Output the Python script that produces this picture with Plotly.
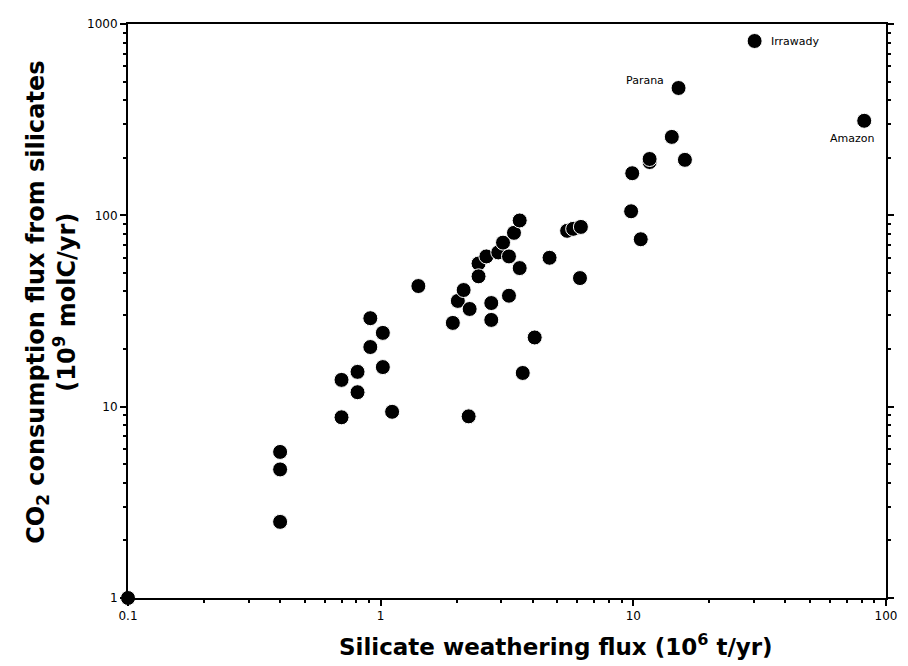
import math
import plotly.graph_objects as go

# Silicate weathering flux (10^6 t/yr) and CO2 consumption (10^9 molC/yr)
flux = [0.1, 0.4, 0.4, 0.4, 0.7, 0.7, 0.81, 0.81, 0.91, 0.91, 1.02, 1.02, 1.11,
        1.41, 1.93, 2.02, 2.13, 2.25, 2.23, 2.44, 2.44, 2.62, 2.74, 2.74, 2.92,
        3.05, 3.22, 3.22, 3.37, 3.55, 3.55, 3.65, 4.07, 4.66, 5.47, 5.78, 6.2,
        6.15, 9.8, 9.9, 10.7, 11.6, 11.6, 14.2, 16.0, 15.1, 30.2, 82.0]
co2 = [1.0, 5.8, 4.7, 2.5, 8.8, 13.8, 15.2, 11.9, 29.0, 20.5, 24.3, 16.1, 9.4,
       42.7, 27.4, 35.7, 40.7, 32.4, 8.9, 56.0, 48.0, 61.0, 34.8, 28.4, 64.0,
       72.0, 61.0, 38.0, 81.0, 94.0, 53.0, 15.0, 23.0, 60.0, 83.0, 85.0, 87.0,
       47.0, 105.0, 166.0, 75.0, 190.0, 197.0, 257.0, 195.0, 463.0, 815.0, 312.0]

label_names = ["Irrawady", "Parana", "Amazon"]
label_x = [30.2, 15.1, 82.0]
label_y = [815.0, 463.0, 312.0]

x_ticks = [0.1, 1, 10, 100]
x_ticktext = ["0.1", "1", "10", "100"]
y_ticks = [1, 10, 100, 1000]
y_ticktext = ["1", "10", "100", "1000"]
x_minor = [m * d for d in (0.1, 1, 10) for m in range(2, 10)]
y_minor = [m * d for d in (1, 10, 100) for m in range(2, 10)]

FONT = "DejaVu Sans, Liberation Sans, Arial, sans-serif"

fig = go.Figure()
fig.add_trace(go.Scatter(
    x=flux, y=co2, mode="markers",
    marker=dict(size=15, color="black", line=dict(color="white", width=1)),
    cliponaxis=False, hoverinfo="x+y", showlegend=False))

offsets = {"Irrawady": dict(xanchor="left", yanchor="middle", xshift=14, yshift=0),
           "Parana": dict(xanchor="right", yanchor="middle", xshift=-13, yshift=7),
           "Amazon": dict(xanchor="center", yanchor="middle", xshift=-12, yshift=-18)}
for n, lx, ly in zip(label_names, label_x, label_y):
    fig.add_annotation(x=math.log10(lx), y=math.log10(ly), text=n, showarrow=False,
                       font=dict(size=11, family=FONT, color="black"), **offsets[n])

fig.add_annotation(xref="paper", yref="paper", x=-0.101, y=0.515,
                   text="<b>CO<sub>2</sub> consumption flux from silicates<br>(10<sup>9</sup> molC/yr)</b>",
                   textangle=-90, showarrow=False, xanchor="center", yanchor="middle",
                   font=dict(size=24, family=FONT, color="black"))
fig.add_annotation(xref="paper", yref="paper", x=0.564, y=-0.082,
                   text="<b>Silicate weathering flux (10<sup>6</sup> t/yr)</b>",
                   showarrow=False, xanchor="center", yanchor="middle",
                   font=dict(size=23, family=FONT, color="black"))

axis_common = dict(type="log", showgrid=False, zeroline=False, showline=True,
                   linecolor="black", linewidth=2, ticks="outside",
                   ticklen=6, tickwidth=1.5, tickcolor="black",
                   tickfont=dict(size=12, family=FONT, color="black"))

fig.update_xaxes(range=[-1, 2], tickvals=x_ticks, ticktext=x_ticktext, mirror=True,
                 minor=dict(tickvals=x_minor, ticks="outside", ticklen=3,
                            tickcolor="black", showgrid=False),
                 **axis_common)
fig.update_yaxes(range=[0, 3], tickvals=y_ticks, ticktext=y_ticktext, mirror="ticks",
                 minor=dict(tickvals=y_minor, ticks="outside", ticklen=3,
                            tickcolor="black", showgrid=False),
                 **axis_common)

fig.update_layout(width=908, height=666, margin=dict(l=128, r=11, t=24, b=68),
                  plot_bgcolor="white", paper_bgcolor="white",
                  font=dict(family=FONT, color="black"))

fig.write_html("out.html")
